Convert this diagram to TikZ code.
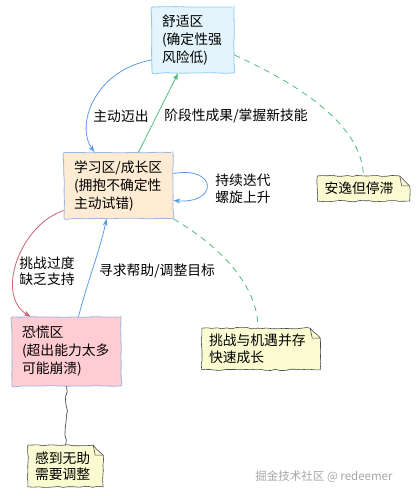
\documentclass[tikz,border=0pt]{standalone}
\usepackage{fontspec}
\setmainfont{Noto Sans CJK SC}
\usetikzlibrary{arrows.meta,decorations.pathmorphing,backgrounds}

\definecolor{comfortfill}{HTML}{E3F4FD}
\definecolor{comfortline}{HTML}{8CCBF0}
\definecolor{learnfill}{HTML}{FDEBD3}
\definecolor{panicfill}{HTML}{FFCCD2}
\definecolor{boxline}{HTML}{9DB4E0}
\definecolor{notefill}{HTML}{FBFBD2}
\definecolor{arrblue}{HTML}{5B9BE8}
\definecolor{arrgreen}{HTML}{4DBB7F}
\definecolor{arrred}{HTML}{D0606E}

\tikzset{
  zonebox/.style={draw=boxline, line width=0.8pt, rounded corners=2pt,
    inner xsep=10pt, inner ysep=7pt, align=left, minimum height=66pt,
    font=\fontsize{13.8}{18}\selectfont,
    decorate, decoration={random steps, segment length=9pt, amplitude=0.4pt}},
  notetext/.style={inner xsep=7pt, inner ysep=6pt, align=left,
    font=\fontsize{13.8}{16.5}\selectfont},
  notebox/.style={fill=notefill, draw=black!70, line width=0.6pt,
    decorate, decoration={random steps, segment length=5pt, amplitude=0.7pt}},
  notefold/.style={draw=black!70, line width=0.6pt},
  lbl/.style={align=left, font=\fontsize{13.8}{16.5}\selectfont},
  flow/.style={line width=0.8pt, -{Stealth[length=7pt, width=5pt]}},
  link/.style={arrgreen, line width=0.8pt, dash pattern=on 6pt off 5pt}
}

\begin{document}
\begin{tikzpicture}[x=1pt, y=-1pt]
\useasboundingbox (0,0) rectangle (416,496);

% zones
\node[zonebox, fill=comfortfill, draw=comfortline, text width=62pt] (comfort) at (193,40)
  {舒适区\\(确定性强\\风险低)};
\node[zonebox, fill=learnfill, text width=89pt] (learn) at (118.5,185.5)
  {学习区/成长区\\(拥抱不确定性\\主动试错)};
\node[zonebox, fill=panicfill, text width=89pt, minimum height=69pt] (panic) at (66.5,351.5)
  {恐慌区\\(超出能力太多\\可能崩溃)};

% notes
\node[notetext, text width=78pt] (calm) at (363.5,188.5) {安逸但停滞};
\node[notetext, text width=104pt] (grow) at (261,349) {挑战与机遇并存\\快速成长};
\node[notetext, text width=61pt] (help) at (65.5,466) {感到无助\\需要调整};

\begin{scope}[on background layer]
\foreach \n in {calm,grow,help}{
  \filldraw[notebox] (\n.north west) -- ([xshift=-10pt]\n.north east)
    -- ([yshift=-10pt]\n.north east) -- (\n.south east) -- (\n.south west) -- cycle;
  \draw[notefold] ([xshift=-10pt]\n.north east) -- ([xshift=-8pt,yshift=-10pt]\n.north east)
    -- ([yshift=-10pt]\n.north east);
}
\end{scope}

% transitions
\draw[flow, arrblue] ([yshift=-20pt]comfort.west) .. controls (95,70) and (75,125) .. ([xshift=-24pt]learn.north);
\draw[flow, arrgreen] ([xshift=20pt]learn.north) -- ([xshift=-15pt]comfort.south);
\draw[flow, arrblue] ([yshift=12pt]learn.east) .. controls (218,166) and (218,204) .. ([yshift=-15pt]learn.east);
\draw[flow, arrred] ([yshift=-25pt]learn.west) .. controls (20,225) and (-5,295) .. ([xshift=-36pt]panic.north);
\draw[flow, arrblue] ([xshift=12pt]panic.north) .. controls (88,280) and (100,250) .. ([xshift=-12pt]learn.south);

% note links
\draw[link] ([yshift=-15pt]comfort.east) .. controls (300,85) and (362,125) .. (calm.north);
\draw[link] (learn.south east) .. controls (210,240) and (258,280) .. ([xshift=-3pt]grow.north);
\draw[black!70, line width=0.7pt, decorate, decoration={random steps, segment length=6pt, amplitude=1.5pt}]
  (panic.south) -- (help.north);

% labels
\node[lbl] (lblstep) at (121,116) {主动迈出};
\node[lbl] (lblgain) at (236,116) {阶段性成果/掌握新技能};
\node[lbl] (lblloop) at (243,189) {持续迭代\\螺旋上升};
\node[lbl] (lblover) at (47,271) {挑战过度\\缺乏支持};
\node[lbl] (lblhelp) at (157,271) {寻求帮助/调整目标};

\node[text=black!35, font=\fontsize{11.5}{14}\selectfont] (mark) at (324,477) {掘金技术社区 @ redeemer};
\end{tikzpicture}
\end{document}
